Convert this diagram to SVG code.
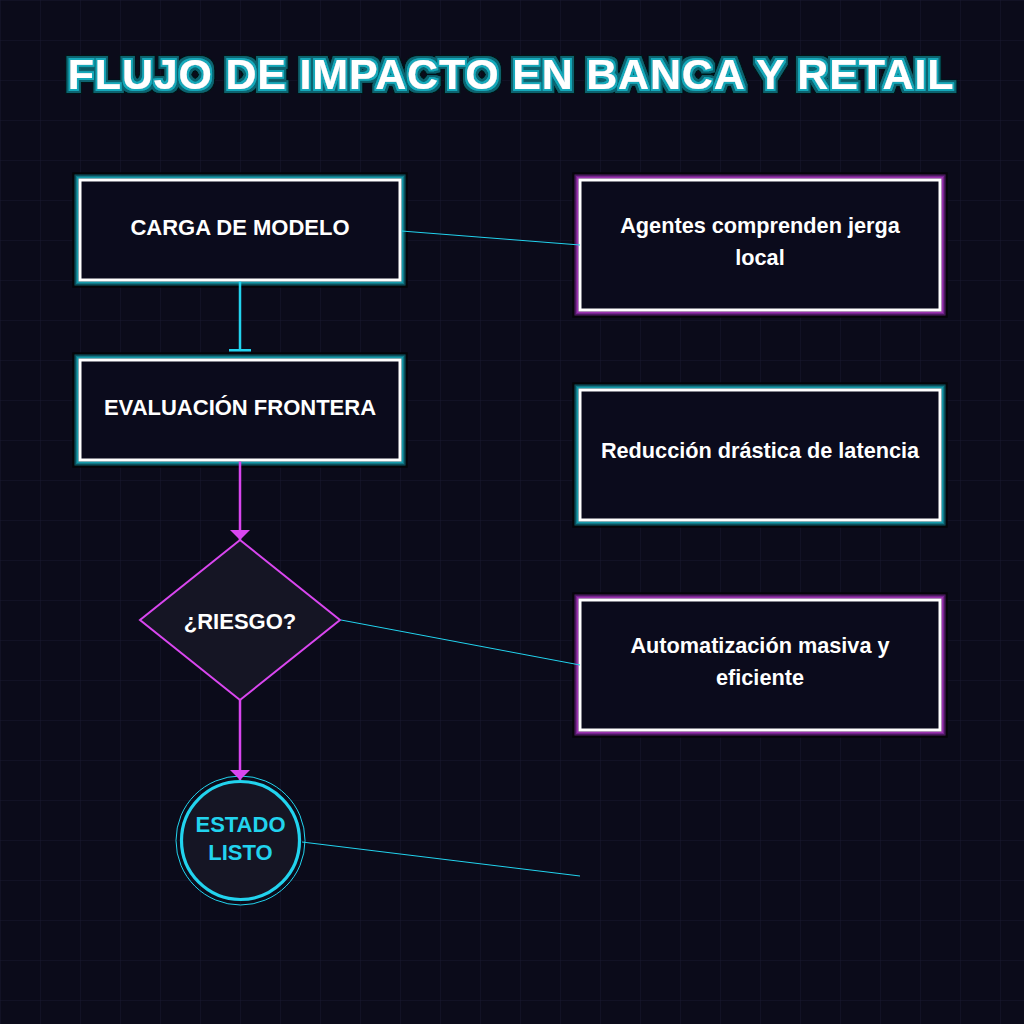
<svg xmlns="http://www.w3.org/2000/svg" width="1024" height="1024" viewBox="0 0 1024 1024">
  <defs>
    <pattern id="grid" x="0" y="0" width="40" height="40" patternUnits="userSpaceOnUse">
      <path d="M40 0 L0 0 0 40" fill="none" stroke="#191930" stroke-width="1"/>
    </pattern>
    <filter id="titleGlow" x="-5%" y="-40%" width="110%" height="180%">
      <feMorphology in="SourceAlpha" operator="dilate" radius="5" result="d4"/>
      <feFlood flood-color="#051419"/>
      <feComposite in2="d4" operator="in" result="c4"/>
      <feMorphology in="SourceAlpha" operator="dilate" radius="3.6" result="d3"/>
      <feFlood flood-color="#0d6470"/>
      <feComposite in2="d3" operator="in" result="c3"/>
      <feMorphology in="SourceAlpha" operator="dilate" radius="2.1" result="d2"/>
      <feFlood flood-color="#18a9ba"/>
      <feComposite in2="d2" operator="in" result="c2"/>
      <feMerge>
        <feMergeNode in="c4"/>
        <feMergeNode in="c3"/>
        <feMergeNode in="c2"/>
        <feMergeNode in="SourceGraphic"/>
      </feMerge>
    </filter>
    <marker id="arrowM" markerUnits="userSpaceOnUse" markerWidth="10" markerHeight="20" refX="10" refY="10" orient="auto" viewBox="0 0 10 20">
      <path d="M0 0 L10 10 L0 20 Z" fill="#d946ef"/>
    </marker>
    <marker id="teeC" markerUnits="userSpaceOnUse" markerWidth="4" markerHeight="22" refX="2" refY="11" orient="auto" viewBox="0 0 4 22">
      <rect x="0" y="0" width="2.5" height="22" fill="#22d3ee"/>
    </marker>
  </defs>
  <style>
    .bg { fill: #0b0b1a; }
    .shade { fill: none; stroke: #050509; stroke-width: 2.5; }
    .t1 { fill: none; stroke: #0b4d57; stroke-width: 1.2; }
    .t2 { fill: none; stroke: #117a88; stroke-width: 1.2; }
    .t3 { fill: none; stroke: #1799a9; stroke-width: 2; }
    .p1 { fill: none; stroke: #4a1a5a; stroke-width: 1.2; }
    .p2 { fill: none; stroke: #762590; stroke-width: 1.2; }
    .p3 { fill: none; stroke: #9a33ae; stroke-width: 2; }
    .box { fill: #0b0b1c; stroke: #ffffff; stroke-width: 3; }
    .lbl { font-family: "Liberation Sans", Arial, sans-serif; font-weight: bold; font-size: 22px; fill: #ffffff; text-anchor: middle; }
    .rlbl { font-size: 21.7px; }
    .cyanlbl { fill: #22d3ee; }
    .title { font-family: "Liberation Sans", Arial, sans-serif; font-weight: bold; font-size: 43px; letter-spacing: 0.8px; fill: #ffffff; text-anchor: middle; }
    .flowC { fill: none; stroke: #22d3ee; stroke-width: 2.5; }
    .flowM { fill: none; stroke: #d946ef; stroke-width: 2.5; }
    .thin { fill: none; stroke: #22d3ee; stroke-width: 1; }
  </style>

  <rect class="bg" x="0" y="0" width="1024" height="1024"/>
  <rect x="0" y="0" width="1024" height="1024" fill="url(#grid)"/>

  <text class="title" x="511" y="88.5" filter="url(#titleGlow)">FLUJO DE IMPACTO EN BANCA Y RETAIL</text>

  <g id="node-carga">
    <rect class="shade" x="73.5" y="173.5" width="333" height="113"/>
    <rect class="t1" x="75" y="175" width="330" height="110"/>
    <rect class="t2" x="76.2" y="176.2" width="327.6" height="107.6"/>
    <rect class="t3" x="77.6" y="177.6" width="324.8" height="104.8"/>
    <rect class="box" x="80" y="180" width="320" height="100"/>
    <text class="lbl" x="240" y="235">CARGA DE MODELO</text>
  </g>

  <g id="node-evaluacion">
    <rect class="shade" x="73.5" y="353.5" width="333" height="113"/>
    <rect class="t1" x="75" y="355" width="330" height="110"/>
    <rect class="t2" x="76.2" y="356.2" width="327.6" height="107.6"/>
    <rect class="t3" x="77.6" y="357.6" width="324.8" height="104.8"/>
    <rect class="box" x="80" y="360" width="320" height="100"/>
    <text class="lbl" x="240" y="415">EVALUACIÓN FRONTERA</text>
  </g>

  <g id="node-riesgo">
    <polygon points="240,540 340,620 240,700 140,620" fill="#151524" stroke="#d946ef" stroke-width="2"/>
    <text class="lbl" x="240" y="629">¿RIESGO?</text>
  </g>

  <g id="node-estado">
    <circle cx="240.5" cy="840.5" r="64.5" fill="none" stroke="#22d3ee" stroke-width="1"/>
    <circle cx="240.5" cy="840.5" r="59" fill="#151524" stroke="#22d3ee" stroke-width="3.2"/>
    <text class="lbl cyanlbl" x="240.5" y="832">ESTADO</text>
    <text class="lbl cyanlbl" x="240.5" y="860">LISTO</text>
  </g>

  <g id="node-agentes">
    <rect class="shade" x="573.5" y="173.5" width="373" height="143"/>
    <rect class="p1" x="575" y="175" width="370" height="140"/>
    <rect class="p2" x="576.2" y="176.2" width="367.6" height="137.6"/>
    <rect class="p3" x="577.6" y="177.6" width="364.8" height="134.8"/>
    <rect class="box" x="580" y="180" width="360" height="130"/>
    <text class="lbl rlbl" x="760" y="233">Agentes comprenden jerga</text>
    <text class="lbl rlbl" x="760" y="265">local</text>
  </g>

  <g id="node-reduccion">
    <rect class="shade" x="573.5" y="383.5" width="373" height="143"/>
    <rect class="t1" x="575" y="385" width="370" height="140"/>
    <rect class="t2" x="576.2" y="386.2" width="367.6" height="137.6"/>
    <rect class="t3" x="577.6" y="387.6" width="364.8" height="134.8"/>
    <rect class="box" x="580" y="390" width="360" height="130"/>
    <text class="lbl rlbl" x="760" y="458">Reducción drástica de latencia</text>
  </g>

  <g id="node-automatizacion">
    <rect class="shade" x="573.5" y="593.5" width="373" height="143"/>
    <rect class="p1" x="575" y="595" width="370" height="140"/>
    <rect class="p2" x="576.2" y="596.2" width="367.6" height="137.6"/>
    <rect class="p3" x="577.6" y="597.6" width="364.8" height="134.8"/>
    <rect class="box" x="580" y="600" width="360" height="130"/>
    <text class="lbl rlbl" x="760" y="653">Automatización masiva y</text>
    <text class="lbl rlbl" x="760" y="685">eficiente</text>
  </g>

  <g id="connectors">
    <line class="flowC" x1="240" y1="281.5" x2="240" y2="351" marker-end="url(#teeC)"/>
    <line class="flowM" x1="240" y1="461.5" x2="240" y2="540" marker-end="url(#arrowM)"/>
    <line class="flowM" x1="240" y1="700" x2="240" y2="780" marker-end="url(#arrowM)"/>
    <line class="thin" x1="401.5" y1="231" x2="580" y2="245"/>
    <line class="thin" x1="341" y1="620" x2="580" y2="665"/>
    <line class="thin" x1="302" y1="842" x2="580" y2="876"/>
  </g>
</svg>
